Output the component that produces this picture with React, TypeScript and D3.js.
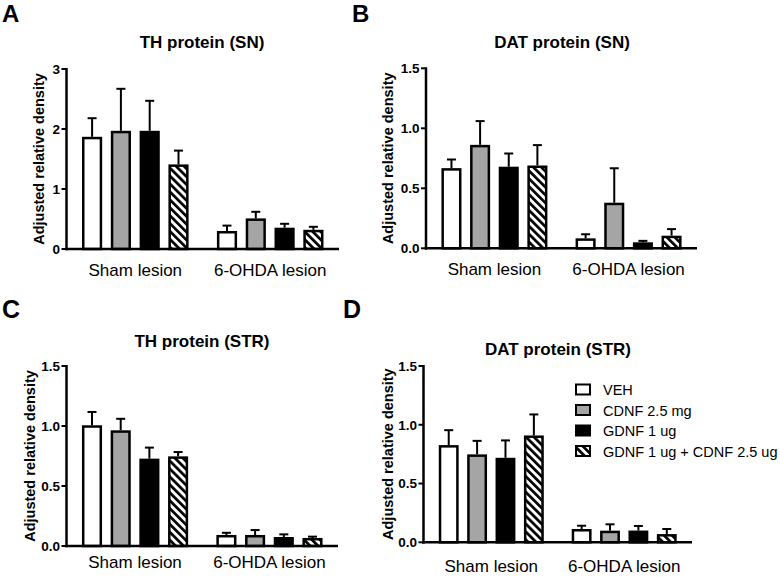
import React from "react";
import * as d3 from "d3";

// ---------- data ----------
const groups = ["Sham lesion", "6-OHDA lesion"];
const series = ["VEH", "CDNF 2.5 mg", "GDNF 1 ug", "GDNF 1 ug + CDNF 2.5 ug"];

// Panel A: TH protein (SN)
const thSnMeans = [[1.87, 1.97, 1.97, 1.41], [0.30, 0.51, 0.355, 0.32]];
const thSnSem = [[0.31, 0.70, 0.50, 0.23], [0.09, 0.11, 0.065, 0.05]];
// Panel B: DAT protein (SN)
const datSnMeans = [[0.668, 0.862, 0.68, 0.69], [0.083, 0.38, 0.05, 0.105]];
const datSnSem = [[0.072, 0.198, 0.11, 0.17], [0.034, 0.287, 0.012, 0.055]];
// Panel C: TH protein (STR)
const thStrMeans = [[1.006, 0.964, 0.728, 0.747], [0.092, 0.092, 0.075, 0.067]];
const thStrSem = [[0.111, 0.096, 0.092, 0.036], [0.018, 0.041, 0.022, 0.011]];
// Panel D: DAT protein (STR)
const datStrMeans = [[0.827, 0.748, 0.719, 0.909], [0.113, 0.099, 0.10, 0.07]];
const datStrSem = [[0.127, 0.115, 0.148, 0.179], [0.028, 0.054, 0.039, 0.043]];

const ticksA = [0, 1, 2, 3];
const ticksB = [0, 0.5, 1.0, 1.5];
const ticksC = [0, 0.5, 1.0, 1.5];
const ticksD = [0, 0.5, 1.0, 1.5];

const yLabel = "Adjusted relative density";

// ---------- styles ----------
const FONT = "'Liberation Sans', Arial, Helvetica, sans-serif";
const fills = ["#ffffff", "#a5a5a5", "#000000", "url(#hatch)"];

type PanelCfg = {
  letter: string; title: string; means: number[][]; sems: number[][]; ticks: number[];
  fmt: string; x0: number; x1: number; yTop: number; y0: number;
  letterX: number; letterY: number; letterSize: number; titleX: number; titleY: number;
  ylabX: number; catY: number; legend?: boolean;
};

const panels: PanelCfg[] = [
  { letter: "A", title: "TH protein (SN)", means: thSnMeans, sems: thSnSem, ticks: ticksA, fmt: "d",
    x0: 66.5, x1: 339, yTop: 69, y0: 249, letterX: 2, letterY: 22, letterSize: 24,
    titleX: 202, titleY: 48, ylabX: 43.5, catY: 276 },
  { letter: "B", title: "DAT protein (SN)", means: datSnMeans, sems: datSnSem, ticks: ticksB, fmt: ".1f",
    x0: 426, x1: 697, yTop: 68.3, y0: 248.3, letterX: 352, letterY: 22, letterSize: 24,
    titleX: 562, titleY: 48, ylabX: 393, catY: 275 },
  { letter: "C", title: "TH protein (STR)", means: thStrMeans, sems: thStrSem, ticks: ticksC, fmt: ".1f",
    x0: 66.5, x1: 338, yTop: 366, y0: 546, letterX: 2, letterY: 318, letterSize: 25,
    titleX: 202, titleY: 347, ylabX: 35, catY: 568 },
  { letter: "D", title: "DAT protein (STR)", means: datStrMeans, sems: datStrSem, ticks: ticksD, fmt: ".1f",
    x0: 423.5, x1: 692, yTop: 366, y0: 542.3, letterX: 343, letterY: 318, letterSize: 25,
    titleX: 558, titleY: 355, ylabX: 393, catY: 572, legend: true },
];

function Panel({ p }: { p: PanelCfg }) {
  const maxTick = p.ticks[p.ticks.length - 1];
  const y = d3.scaleLinear().domain([0, maxTick]).range([p.y0, p.yTop]);
  const xg = d3.scaleBand<string>().domain(groups).range([p.x0, p.x1]).paddingInner(0.21).paddingOuter(0.115);
  const xs = d3.scaleBand<string>().domain(series).range([0, xg.bandwidth()]).paddingInner(0.3).paddingOuter(0);
  const fmt = d3.format(p.fmt);
  const sw = 2.5;
  const capW = 9;
  return (
    <g>
      <text x={p.letterX} y={p.letterY} fontFamily={FONT} fontWeight="bold" fontSize={p.letterSize}>{p.letter}</text>
      <text x={p.titleX} y={p.titleY} fontFamily={FONT} fontWeight="bold" fontSize={17} textAnchor="middle">{p.title}</text>
      <text transform={`translate(${p.ylabX},${(p.y0 + p.yTop) / 2}) rotate(-90)`} fontFamily={FONT}
        fontWeight="bold" fontSize={14.5} textAnchor="middle">{yLabel}</text>
      {/* bars */}
      {groups.map((g, gi) => (
        <g key={g}>
          {series.map((s, si) => {
            const v = p.means[gi][si];
            const e = p.sems[gi][si];
            const bx = (xg(g) as number) + (xs(s) as number);
            const bw = xs.bandwidth();
            const cx = bx + bw / 2;
            const inset = sw / 2;
            return (
              <g key={s}>
                <line x1={cx} x2={cx} y1={y(v)} y2={y(v + e)} stroke="#000" strokeWidth={2} />
                <line x1={cx - capW / 2} x2={cx + capW / 2} y1={y(v + e)} y2={y(v + e)} stroke="#000" strokeWidth={2} />
                <rect x={bx + inset} width={bw - sw} y={y(v) + inset} height={Math.max(0, p.y0 - y(v) - inset)}
                  fill={fills[si]} stroke="#000" strokeWidth={sw} />
              </g>
            );
          })}
          <text x={(xg(g) as number) + xg.bandwidth() / 2} y={p.catY} fontFamily={FONT} fontSize={17}
            textAnchor="middle">{g}</text>
        </g>
      ))}
      {/* axes */}
      <line x1={p.x0} x2={p.x0} y1={p.yTop - 1} y2={p.y0 + 1.25} stroke="#000" strokeWidth={sw} />
      <line x1={p.x0 - 1.25} x2={p.x1} y1={p.y0} y2={p.y0} stroke="#000" strokeWidth={sw} />
      {p.ticks.map((t) => (
        <g key={t}>
          <line x1={p.x0 - 5} x2={p.x0} y1={y(t)} y2={y(t)} stroke="#000" strokeWidth={2} />
          <text x={p.x0 - 6.5} y={y(t)} dy="0.36em" fontFamily={FONT} fontWeight="bold" fontSize={13.5}
            textAnchor="end">{fmt(t)}</text>
        </g>
      ))}
      {p.legend && (
        <g>
          {series.map((s, si) => {
            const ly = 384.5 + si * 20.5;
            return (
              <g key={s}>
                <rect x={576} y={ly} width={14} height={10} fill={fills[si]} stroke="#000" strokeWidth={2} />
                <text x={603} y={ly + 10.5} fontFamily={FONT} fontSize={14.5}>{s}</text>
              </g>
            );
          })}
        </g>
      )}
    </g>
  );
}

export default function App() {
  return (
    <svg width={780} height={577} style={{ position: "absolute", left: 0, top: 0, background: "#fff" }}>
      <defs>
        <pattern id="hatch" patternUnits="userSpaceOnUse" width={5.6} height={5.6} patternTransform="rotate(-45)">
          <rect width={5.6} height={5.6} fill="#fff" />
          <rect width={2.7} height={5.6} fill="#000" />
        </pattern>
      </defs>
      <rect width={780} height={577} fill="#fff" />
      {panels.map((p) => <Panel key={p.letter} p={p} />)}
    </svg>
  );
}
